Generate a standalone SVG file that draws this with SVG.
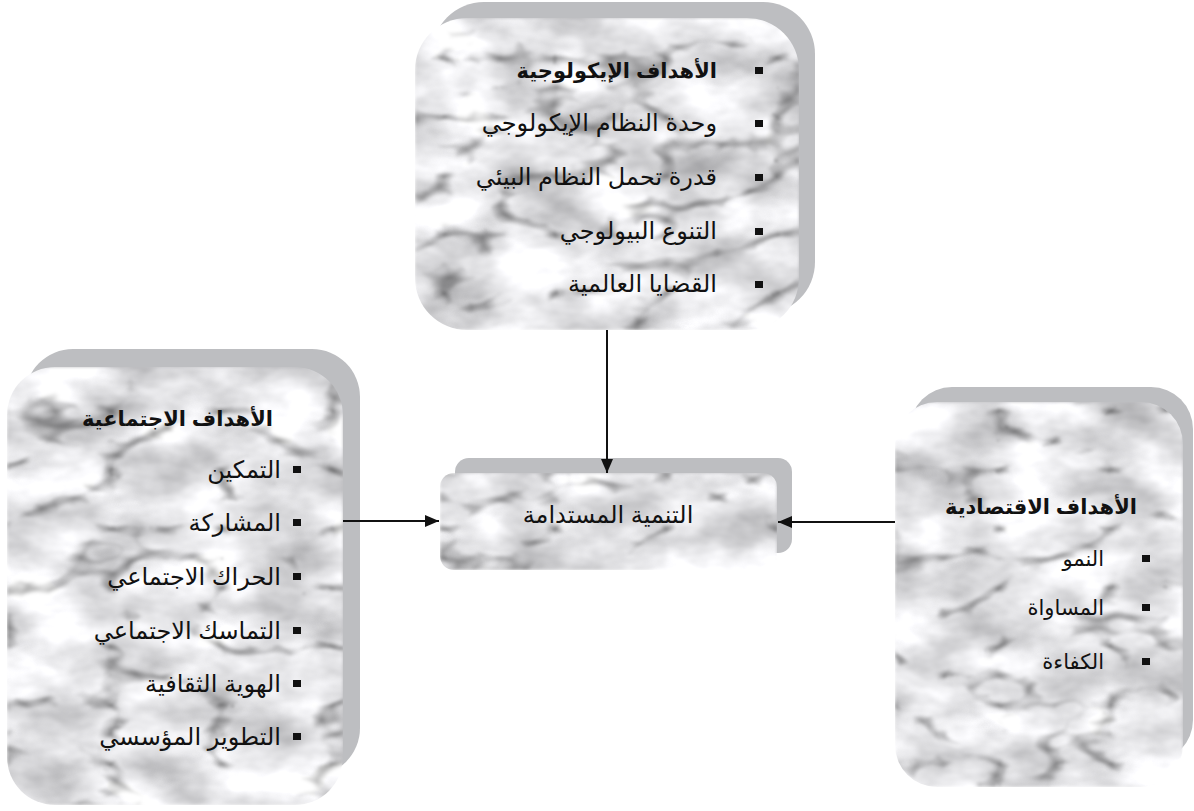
<svg xmlns="http://www.w3.org/2000/svg" width="1194" height="811" viewBox="0 0 1194 811">
<style>
.shadow{fill:#bdbec1}
.t{font-family:"Liberation Sans","DejaVu Sans",sans-serif;font-size:24px;fill:#111}
.b{font-weight:bold;font-size:21px}
.s{font-size:21px}
.bul{fill:#111}
.conn{stroke:#111;stroke-width:2;fill:none}
.m{fill:#ddd;filter:url(#marble)}
</style>
<defs>
<filter id="marble" x="0" y="0" width="1" height="1" color-interpolation-filters="sRGB">
<feTurbulence type="fractalNoise" baseFrequency="0.012 0.02" numOctaves="4" seed="5" result="n1"/>
<feColorMatrix in="n1" type="matrix" values="0.55 0 0 0 0.62  0.55 0 0 0 0.62  0.55 0 0 0 0.63  0 0 0 0 1" result="cloud"/>
<feTurbulence type="turbulence" baseFrequency="0.009 0.017" numOctaves="3" seed="11" result="n2"/>
<feColorMatrix in="n2" type="matrix" values="2.2 0 0 0 0.58  2.2 0 0 0 0.58  2.2 0 0 0 0.58  0 0 0 0 1" result="vein"/>
<feGaussianBlur in="vein" stdDeviation="1.6" result="veinb"/>
<feComposite in="cloud" in2="veinb" operator="arithmetic" k1="1" k2="0" k3="0" k4="0" result="mix"/>
<feComposite in="mix" in2="SourceGraphic" operator="in"/>
</filter>
<marker id="ah" viewBox="0 0 14 12" refX="14" refY="6" markerWidth="14" markerHeight="12" markerUnits="userSpaceOnUse" orient="auto">
<path d="M0,0 L14,6 L0,12 z" fill="#111"/>
</marker>
</defs>
<rect width="1194" height="811" fill="#fff"/>

<g id="node-eco">
<rect class="shadow" x="432" y="2" width="383" height="312" rx="52"/>
<rect class="m" x="415" y="18" width="384" height="312" rx="52"/>
<text class="t b" x="717" y="78" text-anchor="end">الأهداف الإيكولوجية</text>
<text class="t" x="717" y="131" text-anchor="end">وحدة النظام الإيكولوجي</text>
<text class="t" x="717" y="185" text-anchor="end">قدرة تحمل النظام البيئي</text>
<text class="t" x="717" y="239" text-anchor="end">التنوع البيولوجي</text>
<text class="t" x="717" y="292" text-anchor="end">القضايا العالمية</text>
<rect class="bul" x="755" y="67" width="8" height="7"/>
<rect class="bul" x="755" y="120" width="8" height="7"/>
<rect class="bul" x="755" y="174" width="8" height="7"/>
<rect class="bul" x="755" y="228" width="8" height="7"/>
<rect class="bul" x="755" y="281" width="8" height="7"/>
</g>

<g id="node-social">
<rect class="shadow" x="25" y="349" width="335" height="427" rx="48"/>
<rect class="m" x="7" y="367" width="336" height="438" rx="48"/>
<text class="t b" x="273" y="426" text-anchor="end">الأهداف الاجتماعية</text>
<text class="t" x="281" y="478" text-anchor="end">التمكين</text>
<text class="t" x="281" y="531" text-anchor="end">المشاركة</text>
<text class="t" x="281" y="585" text-anchor="end">الحراك الاجتماعي</text>
<text class="t" x="281" y="639" text-anchor="end">التماسك الاجتماعي</text>
<text class="t" x="281" y="692" text-anchor="end">الهوية الثقافية</text>
<text class="t" x="281" y="745" text-anchor="end">التطوير المؤسسي</text>
<rect class="bul" x="293" y="466" width="8" height="7"/>
<rect class="bul" x="293" y="519" width="8" height="7"/>
<rect class="bul" x="293" y="573" width="8" height="7"/>
<rect class="bul" x="293" y="627" width="8" height="7"/>
<rect class="bul" x="293" y="680" width="8" height="7"/>
<rect class="bul" x="293" y="733" width="8" height="7"/>
</g>

<g id="node-center">
<rect class="shadow" x="455" y="458" width="337" height="95" rx="14"/>
<rect class="m" x="440" y="473" width="337" height="97" rx="14"/>
<text class="t" x="608" y="523" text-anchor="middle" font-size="23">التنمية المستدامة</text>
</g>

<g id="node-econ">
<rect class="shadow" x="910" y="387" width="283" height="375" rx="42"/>
<rect class="m" x="895" y="402" width="288" height="385" rx="42"/>
<text class="t b" x="1137" y="514" text-anchor="end">الأهداف الاقتصادية</text>
<text class="t s" x="1104" y="566" text-anchor="end">النمو</text>
<text class="t s" x="1104" y="615" text-anchor="end">المساواة</text>
<text class="t s" x="1104" y="669" text-anchor="end">الكفاءة</text>
<rect class="bul" x="1142" y="555" width="8" height="7"/>
<rect class="bul" x="1142" y="604" width="8" height="7"/>
<rect class="bul" x="1142" y="658" width="8" height="7"/>
</g>

<g id="connectors">
<line class="conn" x1="607" y1="330" x2="607" y2="473" marker-end="url(#ah)"/>
<line class="conn" x1="343" y1="521" x2="439" y2="521" marker-end="url(#ah)"/>
<line class="conn" x1="895" y1="522" x2="778" y2="522" marker-end="url(#ah)"/>
</g>
</svg>
